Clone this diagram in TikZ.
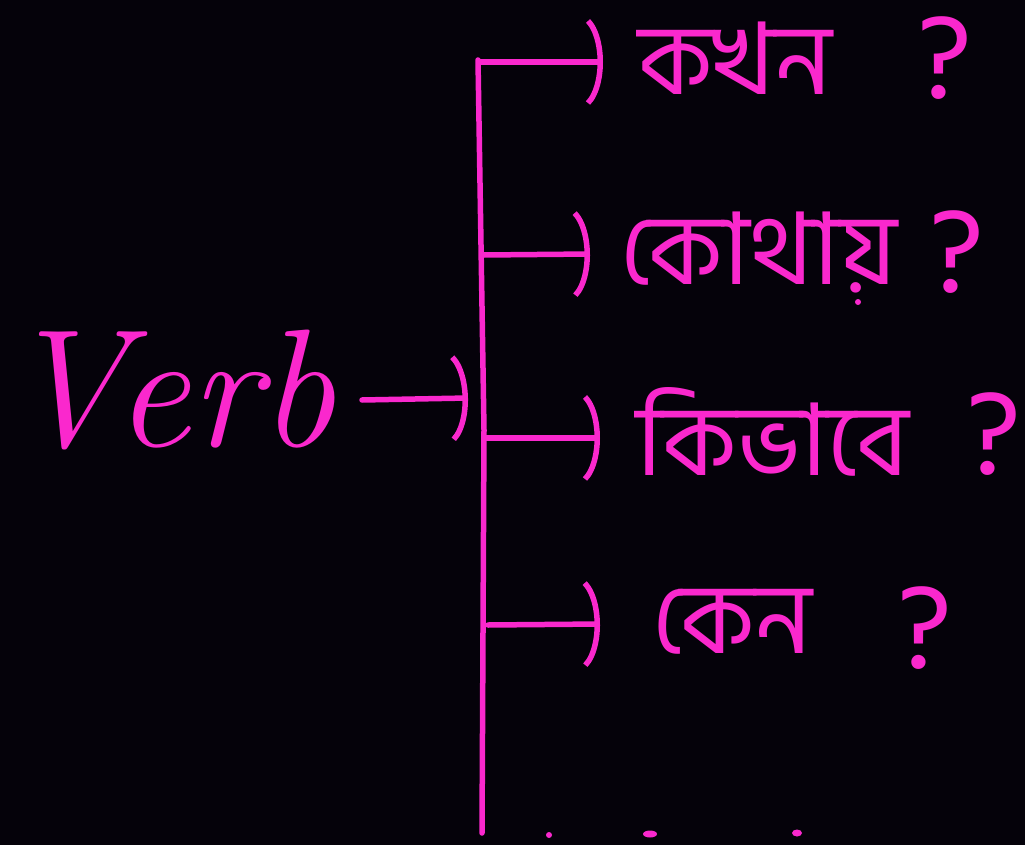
\documentclass[tikz,border=0pt]{standalone}
\usepackage{fontspec}
\usetikzlibrary{arrows.meta}
\newfontfamily\bnfont[Script=Bengali]{Hind Siliguri}
\definecolor{ink}{RGB}{250,40,205}
\definecolor{bg}{RGB}{5,2,10}
\begin{document}
\begin{tikzpicture}[x=1pt,y=-1pt,
  inkline/.style={draw=ink, line width=5.5pt, line cap=round, line join=round},
  tipline/.style={inkline, -{Arc Barb[arc=130, length=24pt, width=96pt]}},
  bnlabel/.style={text=ink, anchor=west, inner sep=0pt, font=\bnfont\fontsize{100}{110}\selectfont},
  qmark/.style={text=ink, inner sep=0pt, font=\bnfont\fontsize{120}{130}\selectfont},
  verbtext/.style={text=ink, inner sep=0pt, font=\itshape\fontsize{168}{180}\selectfont},
  dotmark/.style={fill=ink, draw=none}]
\fill[bg] (0,0) rectangle (1025,845);
\useasboundingbox (0,0) rectangle (1025,845);

% main word
\node[verbtext] (verb) at (170,390) {Verb};

% trunk
\coordinate (top) at (478,60);
\coordinate (mid) at (484,430);
\coordinate (bot) at (482,833);
\draw[inkline] (top) -- (mid) -- (bot);

\coordinate (vin) at (468,398);
\draw[tipline] (362,400) coordinate (vout) -- (vin);

% branch points
\coordinate (b1) at (479,62);
\coordinate (b2) at (484,255);
\coordinate (b3) at (486,438);
\coordinate (b4) at (488,625);

% labels
\node[bnlabel] (l1) at (638,58) {কখন};
\node[bnlabel] (l2) at (620,252) {কোথায়};
\node[bnlabel] (l3) at (636,432) {কিভাবে};
\node[bnlabel] (l4) at (652,622) {কেন};

\node[qmark] (q1) at (945,58) {?};
\node[qmark] (q2) at (957,252) {?};
\node[qmark] (q3) at (994,434) {?};
\node[qmark] (q4) at (925,628) {?};

% branches
\draw[tipline] (b1) -- (603,62);
\draw[tipline] (b2) -- (590,254);
\draw[tipline] (b3) -- (600,438);
\draw[tipline] (b4) -- (600,624);

% stray dots
\fill[dotmark] (858,302) circle (3pt);
\fill[dotmark] (549,835) circle (3pt);
\fill[dotmark] (650,834) ellipse (7pt and 3.5pt);
\fill[dotmark] (797,833) ellipse (5pt and 3.5pt);
\end{tikzpicture}
\end{document}
